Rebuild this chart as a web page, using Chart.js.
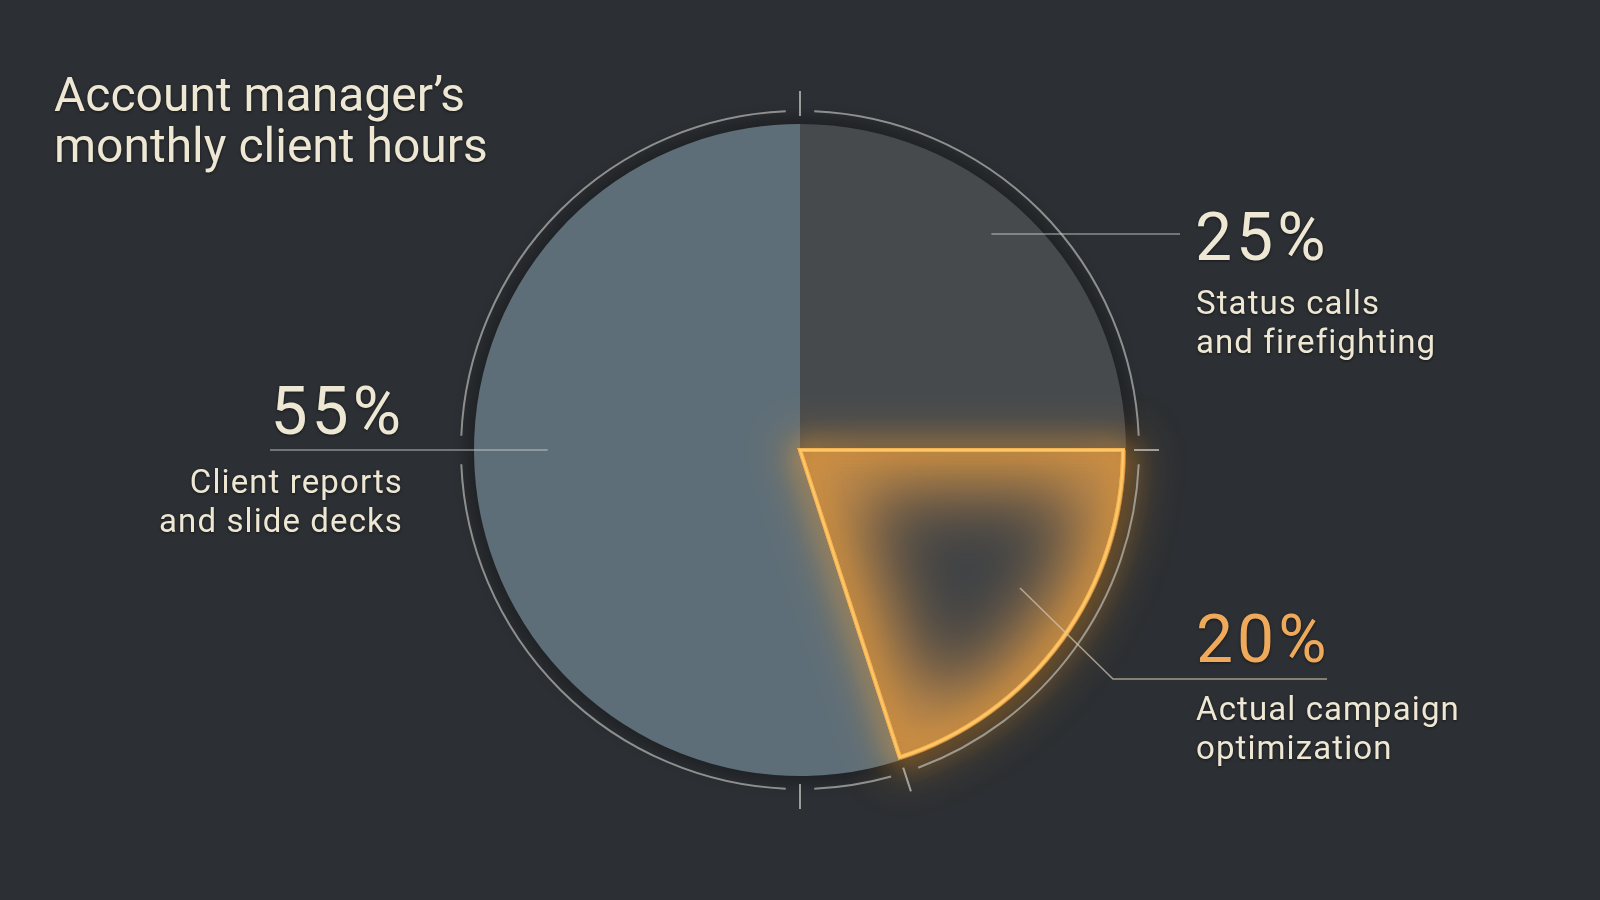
<!DOCTYPE html>
<html>
<head>
<meta charset="utf-8">
<script src="https://cdn.jsdelivr.net/npm/chart.js@4.4.1/dist/chart.umd.min.js"></script>
<style>
  html, body { margin: 0; padding: 0; background: #2c2f33; }
  #wrap { width: 1600px; height: 900px; }
</style>
</head>
<body>
<div id="wrap"><canvas id="pieChart" width="1600" height="900"></canvas></div>
<script>
const titleLines = ['Account manager’s', 'monthly client hours'];
const categories = ['Status calls and firefighting', 'Actual campaign optimization', 'Client reports and slide decks'];
const shares = [25, 20, 55];
const labelLines = [
  ['Status calls', 'and firefighting'],
  ['Actual campaign', 'optimization'],
  ['Client reports', 'and slide decks']
];
const highlightIndex = 1;

const BG = '#2c2f33';
const CREAM = '#ede7d4';
const ORANGE = '#eea95a';
const LINE = 'rgba(205,205,200,0.62)';
const FONT = 'Roboto, "Liberation Sans", sans-serif';

function slicePath(ctx, a, inset) {
  ctx.beginPath();
  ctx.moveTo(a.x, a.y);
  ctx.arc(a.x, a.y, a.outerRadius - inset, a.startAngle, a.endAngle);
  ctx.closePath();
}

function textShadow(ctx) {
  ctx.shadowColor = 'rgba(0,0,0,0.5)';
  ctx.shadowBlur = 3;
  ctx.shadowOffsetY = 1;
}

const decorPlugin = {
  id: 'decor',
  beforeDraw(chart) {
    const ctx = chart.ctx;
    ctx.save();
    ctx.fillStyle = BG;
    ctx.fillRect(0, 0, chart.width, chart.height);
    // title
    textShadow(ctx);
    ctx.fillStyle = CREAM;
    ctx.font = '400 48px ' + FONT;
    ctx.textAlign = 'left';
    ctx.textBaseline = 'alphabetic';
    ctx.fillText(titleLines[0], 54, 111);
    ctx.fillText(titleLines[1], 54, 162);
    ctx.restore();
  },
  beforeDatasetsDraw(chart) {
    const arc = chart.getDatasetMeta(0).data[0];
    const { x, y, outerRadius } = arc.getProps(['x', 'y', 'outerRadius'], true);
    const ctx = chart.ctx;
    ctx.save();
    ctx.filter = 'blur(6px)';
    ctx.fillStyle = 'rgba(20,22,25,0.45)';
    ctx.beginPath();
    ctx.arc(x, y, outerRadius + 9, 0, Math.PI * 2);
    ctx.fill();
    ctx.restore();
  },
  afterDatasetsDraw(chart) {
    const ctx = chart.ctx;
    const arcs = chart.getDatasetMeta(0).data.map(el =>
      el.getProps(['x', 'y', 'startAngle', 'endAngle', 'outerRadius'], true));
    const cx = arcs[0].x, cy = arcs[0].y, R = arcs[0].outerRadius;
    const hl = arcs[highlightIndex];

    // soft outer haze
    ctx.save();
    ctx.filter = 'blur(22px)';
    ctx.strokeStyle = 'rgba(240,160,60,0.35)';
    ctx.lineWidth = 26;
    slicePath(ctx, hl, 0);
    ctx.stroke();
    ctx.restore();

    // inner glow of highlighted slice
    ctx.save();
    slicePath(ctx, hl, 0);
    ctx.clip();
    ctx.filter = 'blur(38px)';
    ctx.strokeStyle = 'rgba(232,160,75,0.85)';
    ctx.lineWidth = 76;
    ctx.lineJoin = 'miter';
    slicePath(ctx, hl, 0);
    ctx.stroke();
    ctx.restore();

    // glowing border
    ctx.save();
    ctx.lineJoin = 'miter';
    ctx.shadowColor = 'rgba(245,160,50,0.8)';
    ctx.shadowBlur = 26;
    ctx.strokeStyle = '#f6b24f';
    ctx.lineWidth = 4;
    for (let i = 0; i < 2; i++) {
      slicePath(ctx, hl, 3);
      ctx.stroke();
    }
    ctx.shadowBlur = 0;
    ctx.strokeStyle = '#fdc76a';
    ctx.lineWidth = 2;
    slicePath(ctx, hl, 3);
    ctx.stroke();
    ctx.restore();

    // outer ring with gaps and ticks
    const ringR = R + 13;
    const boundaries = arcs.map(a => a.startAngle);
    const tickAngles = boundaries.concat([Math.PI / 2]);
    const gapAngles = tickAngles.concat([Math.PI]);
    const norm = a => ((a % (Math.PI * 2)) + Math.PI * 2) % (Math.PI * 2);
    const gaps = gapAngles.map(norm).sort((a, b) => a - b);
    const g = 0.042;
    ctx.save();
    ctx.strokeStyle = LINE;
    ctx.lineWidth = 2;
    for (let i = 0; i < gaps.length; i++) {
      const a0 = gaps[i] + g;
      const a1 = (i + 1 < gaps.length ? gaps[i + 1] : gaps[0] + Math.PI * 2) - g;
      ctx.beginPath();
      ctx.arc(cx, cy, ringR, a0, a1);
      ctx.stroke();
    }
    ctx.strokeStyle = 'rgba(205,205,200,0.7)';
    tickAngles.forEach(a => {
      ctx.beginPath();
      ctx.moveTo(cx + Math.cos(a) * (R + 8), cy + Math.sin(a) * (R + 8));
      ctx.lineTo(cx + Math.cos(a) * (R + 33), cy + Math.sin(a) * (R + 33));
      ctx.stroke();
    });

    // leader lines
    ctx.strokeStyle = 'rgba(205,205,200,0.6)';
    ctx.lineWidth = 1.6;
    ctx.beginPath();
    ctx.moveTo(cx + 0.587 * R, cy - 216);
    ctx.lineTo(cx + 380, cy - 216);
    ctx.moveTo(cx - 530, cy);
    ctx.lineTo(cx - 0.774 * R, cy);
    ctx.stroke();
    ctx.strokeStyle = 'rgba(215,200,175,0.7)';
    ctx.beginPath();
    ctx.moveTo(cx + 220, cy + 138);
    ctx.lineTo(cx + 313, cy + 229);
    ctx.lineTo(cx + 527, cy + 229);
    ctx.stroke();
    ctx.restore();

    // labels
    ctx.save();
    textShadow(ctx);
    ctx.textBaseline = 'alphabetic';
    const pct = i => shares[i] + '%';

    ctx.font = '400 66px ' + FONT;
    ctx.letterSpacing = '4px';
    ctx.textAlign = 'left';
    ctx.fillStyle = CREAM;
    ctx.fillText(pct(0), cx + 395, cy - 190);
    ctx.fillStyle = ORANGE;
    ctx.fillText(pct(1), cx + 396, cy + 212);
    ctx.textAlign = 'right';
    ctx.fillStyle = CREAM;
    ctx.fillText(pct(2), cx - 395, cy - 16);

    ctx.font = '400 33px ' + FONT;
    ctx.letterSpacing = '1.1px';
    ctx.fillStyle = CREAM;
    ctx.textAlign = 'left';
    ctx.fillText(labelLines[0][0], cx + 396, cy - 136);
    ctx.fillText(labelLines[0][1], cx + 396, cy - 97);
    ctx.fillText(labelLines[1][0], cx + 396, cy + 270);
    ctx.fillText(labelLines[1][1], cx + 396, cy + 309);
    ctx.textAlign = 'right';
    ctx.fillText(labelLines[2][0], cx - 397, cy + 43);
    ctx.fillText(labelLines[2][1], cx - 397, cy + 82);
    ctx.restore();
  }
};

new Chart(document.getElementById('pieChart').getContext('2d'), {
  type: 'pie',
  data: {
    labels: categories,
    datasets: [{
      data: shares,
      backgroundColor: ['#474a4d', '#3f4245', '#5e6e78'],
      borderWidth: 0
    }]
  },
  options: {
    responsive: false,
    devicePixelRatio: 1,
    animation: false,
    layout: { padding: { top: 124, bottom: 124 } },
    plugins: {
      legend: { display: false },
      tooltip: { enabled: false },
      title: { display: false }
    }
  },
  plugins: [decorPlugin]
});
</script>
</body>
</html>
